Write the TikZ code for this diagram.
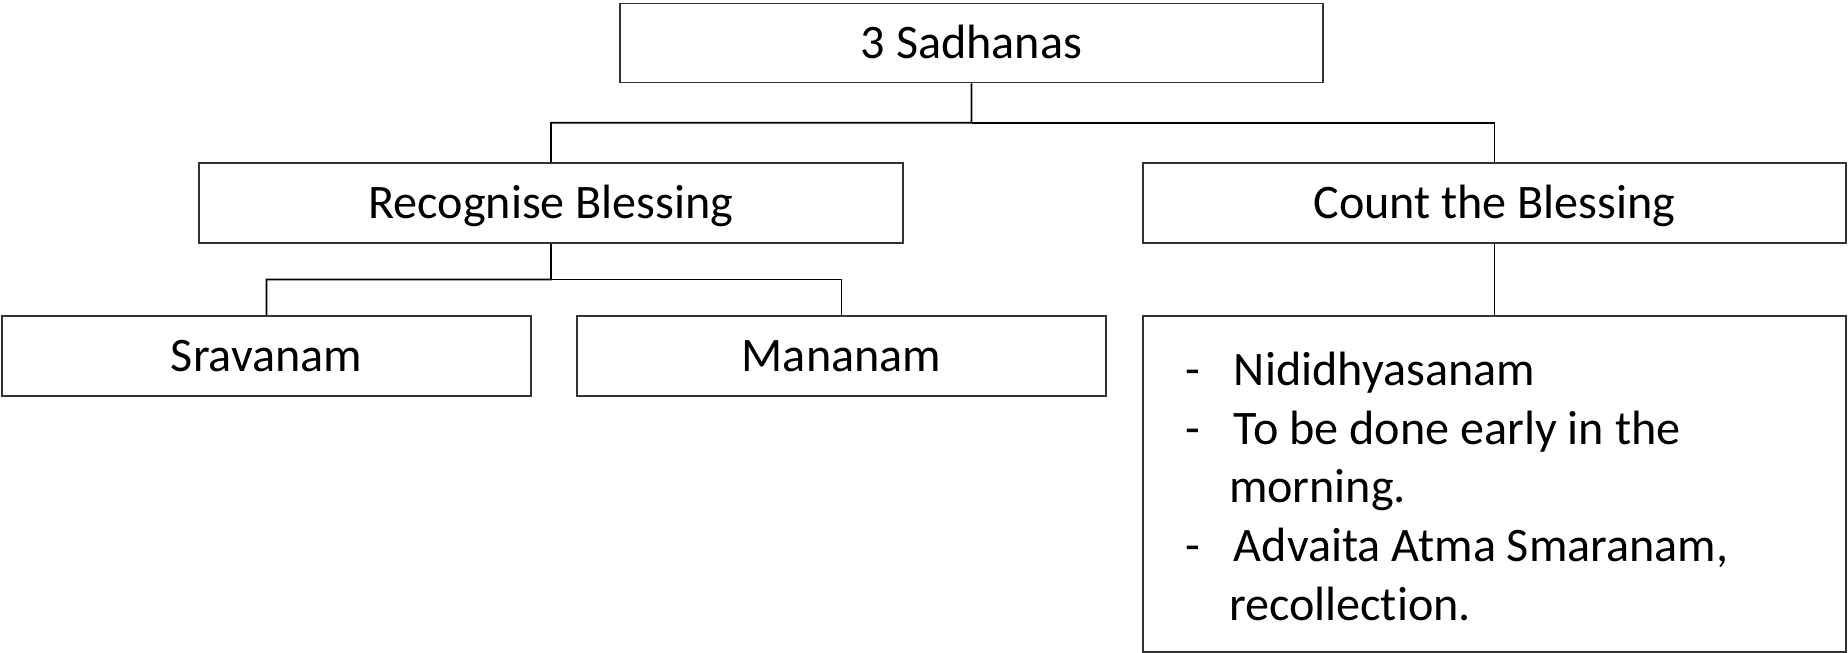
\documentclass[tikz,border=0pt]{standalone}
\usepackage{fontspec}
\setmainfont{Carlito}[Ligatures=NoCommon]
\usetikzlibrary{calc}
\tikzset{
	blockbox/.style={draw=black!80, line width=0.45pt, inner sep=0pt, minimum height=0.80cm, text height=9pt, text depth=0pt, font=\fontsize{13.7}{16.7}\selectfont},
	link/.style={draw=black, line width=0.45pt}
}

\begin{document}
\begin{tikzpicture}
		%%%%% START %%%%%
		\useasboundingbox (0, 0) rectangle (18.48, -6.53);
		
		\node[blockbox, minimum width=7.03cm, minimum height=0.79cm] (sadhanas) at (9.715, -0.43) {3 Sadhanas};
		
		\node[blockbox, minimum width=7.04cm] (recognise) at (5.51, -2.03) {Recognise Blessing};
		\node[blockbox, minimum width=7.03cm] (count) at (14.945, -2.03) {Count the Blessing};
		
		\node[blockbox, minimum width=5.29cm] (sravanam) at (2.665, -3.56) {Sravanam};
		\node[blockbox, minimum width=5.29cm] (mananam) at (8.415, -3.56) {Mananam};
		
		\node[blockbox, minimum width=7.03cm, minimum height=3.36cm, text width=7.03cm, text height=, text depth=, align=left] (nididhyasanam) at (14.945, -4.84)
		{\spaceskip=0pt \xspaceskip=0pt
		\begin{tabular}{@{\hspace{4.2mm}}p{4.9mm}@{}l@{}}
			- & \rule{0pt}{15.8pt}Nididhyasanam\\
			- & To be done early in the\\
			  & \hspace{-0.5mm}morning.\\
			- & Advaita Atma Smaranam,\\
			  & \hspace{-0.5mm}recollection.
		\end{tabular}};
		
		% connectors
		\coordinate (split1) at ($(sadhanas.south)!0.5!(sadhanas.south |- recognise.north)$);
		\draw[link] (sadhanas.south) -- (split1) -| (recognise.north);
		\draw[link] (split1) -| (count.north);
		
		\coordinate (split2) at ($(recognise.south)!0.5!(recognise.south |- sravanam.north)$);
		\draw[link] (recognise.south) -- (split2) -| (sravanam.north);
		\draw[link] (split2) -| (mananam.north);
		
		\draw[link] (count.south) -- (nididhyasanam.north);
		
		%%%%% END %%%%%
	\end{tikzpicture}
\end{document}
